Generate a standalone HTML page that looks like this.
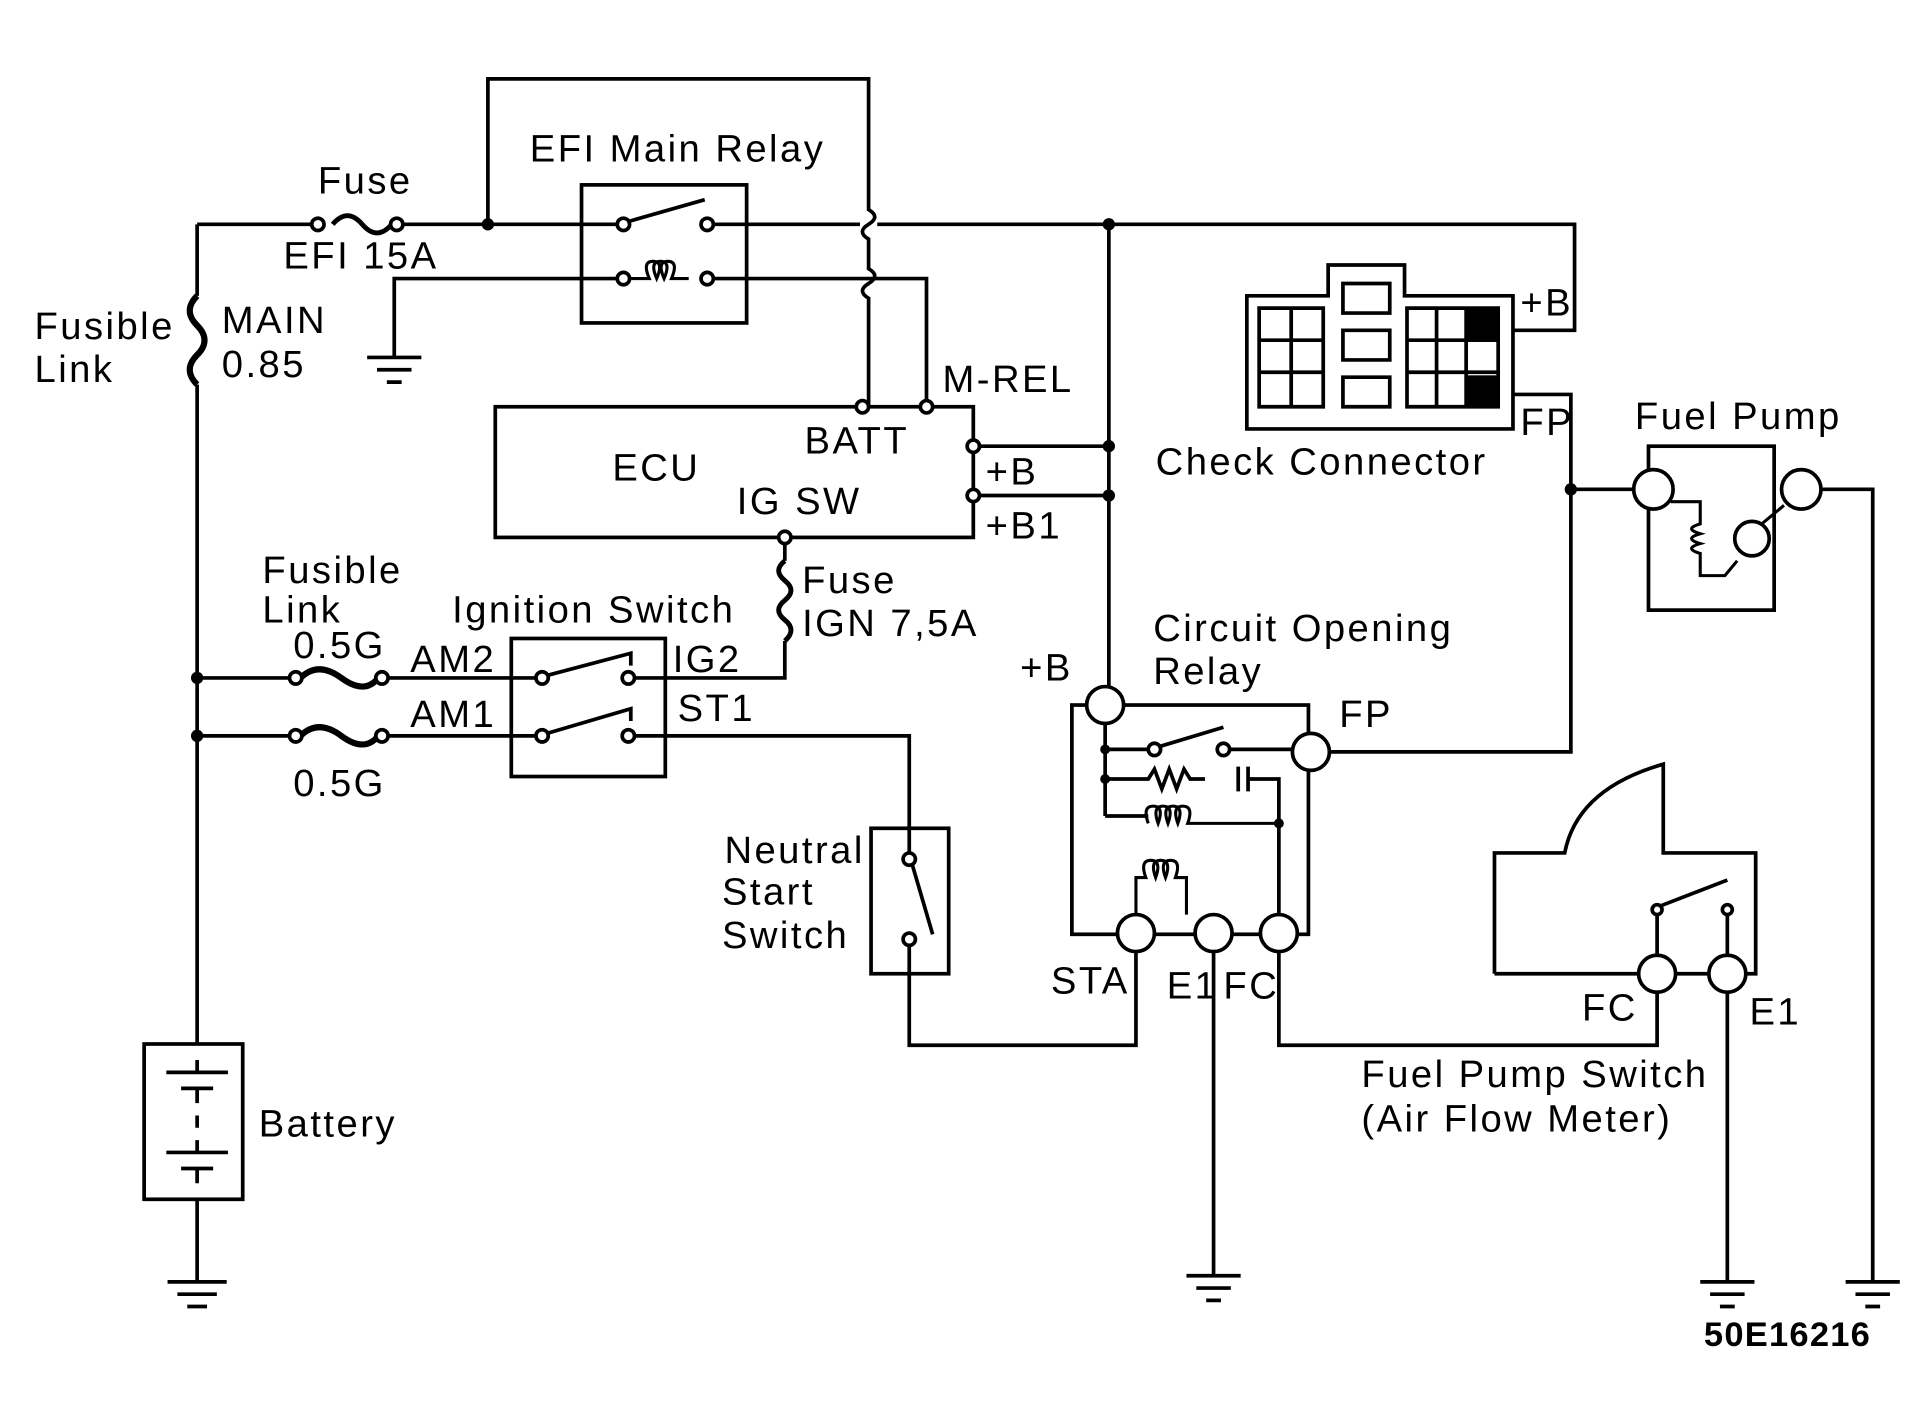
<!DOCTYPE html>
<html><head><style>html,body{margin:0;padding:0;background:#fff}svg{display:block}</style></head><body>
<svg width="1922" height="1415" viewBox="0 0 1560 1148" preserveAspectRatio="none" xmlns="http://www.w3.org/2000/svg">
<g fill="none" stroke="#000" stroke-width="3">
<path d="M160 182H258M322 182H472M606 182H698M712 182H1278V268H1228"/>
<path d="M160 182V240M160 312V847M160 973V1040"/>
<path d="M160 240q-12 12 0 24q12 12 0 24q-12 12 0 24" stroke-width="5"/>
<path d="M270 182q12-14 24 0t24 0" stroke-width="4"/>
<circle cx="258" cy="182" r="5" fill="#fff"/><circle cx="322" cy="182" r="5" fill="#fff"/>
<path d="M396 182V64H705V170q10 6 0 12q-10 6 0 12V218q10 6 0 12q-10 6 0 12V330"/>
<rect x="472" y="150" width="134" height="112"/>
<path d="M472 182H500M580 182H606M472 226H500M580 226H606"/>
<circle cx="506" cy="182" r="5" fill="#fff"/><circle cx="574" cy="182" r="5" fill="#fff"/>
<path d="M509 180L572 162"/>
<circle cx="506" cy="226" r="5" fill="#fff"/><circle cx="574" cy="226" r="5" fill="#fff"/>
<path d="M511 226h16q-6-14 3-14q9 0 3 14q-6-14 3-14q9 0 3 14q-6-14 3-14q9 0 3 14h14" stroke-width="2.5"/>
<path d="M320 290V226H472M606 226H752V330"/>
<path d="M298 290h44M306 300h28M314 310h12"/>
<rect x="402" y="330" width="388" height="106"/>
<path d="M790 362H900M790 402H900M900 182V557"/>
<circle cx="700" cy="330" r="5" fill="#fff"/><circle cx="752" cy="330" r="5" fill="#fff"/>
<circle cx="790" cy="362" r="5" fill="#fff"/><circle cx="790" cy="402" r="5" fill="#fff"/>
<path d="M637 441V455M637 520V550H515"/>
<path d="M637 455q-10 8 0 16q10 8 0 16q-10 8 0 16q10 8 0 17" stroke-width="4"/>
<circle cx="637" cy="436" r="5" fill="#fff"/>
<rect x="415" y="518" width="125" height="112"/>
<path d="M160 550H240M310 550H415M160 597H240M310 597H415M415 550H435M415 597H435M510 597H738V672"/>
<path d="M244 550q14-14 33 0t30 0M244 597q14-14 33 0t30 0" stroke-width="5"/>
<circle cx="240" cy="550" r="5" fill="#fff"/><circle cx="310" cy="550" r="5" fill="#fff"/>
<circle cx="240" cy="597" r="5" fill="#fff"/><circle cx="310" cy="597" r="5" fill="#fff"/>
<circle cx="440" cy="550" r="5" fill="#fff"/><circle cx="510" cy="550" r="5" fill="#fff"/>
<circle cx="440" cy="597" r="5" fill="#fff"/><circle cx="510" cy="597" r="5" fill="#fff"/>
<path d="M444 548L512 530L512 540M444 595L512 575L512 585"/>
<rect x="707" y="672" width="63" height="118"/>
<circle cx="738" cy="697" r="5" fill="#fff"/><circle cx="738" cy="762" r="5" fill="#fff"/>
<path d="M738 672V692M740 700L757 758M738 767V848H922V772"/>
<rect x="117" y="847" width="80" height="126"/>
<path d="M160 860V870M135 870h50M147 883h26M160 883V895M160 905V915M160 925V935M135 935h50M147 948h26M160 948V960"/>
<path d="M136 1040h48M144 1050h32M152 1060h16"/>
<rect x="870" y="572" width="192" height="186"/>
<circle cx="897" cy="572" r="15" fill="#fff"/>
<circle cx="1064" cy="610" r="15" fill="#fff"/>
<circle cx="922" cy="757" r="15" fill="#fff"/>
<circle cx="985" cy="757" r="15" fill="#fff"/>
<circle cx="1038" cy="757" r="15" fill="#fff"/>
<path d="M897 587V662M897 608H932M998 608H1049M897 632H932l5-8 6 16 6-16 6 16 6-16 5 8h12M1005 622v20M1013 622v20M1013 632H1038V742M897 662H932"/>
<circle cx="937" cy="608" r="5" fill="#fff"/><circle cx="993" cy="608" r="5" fill="#fff"/>
<path d="M940 606L993 590"/>
<path d="M932 668q-5-14 4-14q9 0 4 14q-5-14 4-14q9 0 4 14q-5-14 4-14q9 0 4 14q-5-14 4-14q9 0 4 14H1038" stroke-width="2.5"/>
<path d="M922 742V712h8q-5-14 4-14q9 0 4 14q-5-14 4-14q9 0 4 14q-5-14 4-14q9 0 4 14h9V742" stroke-width="2.5"/>
<path d="M985 772V1035M963 1035h44M971 1045h28M979 1055h12"/>
<path d="M1079 610H1275V397H1326M1275 397V320H1228"/>
<path d="M1038 772V848H1345V806"/>
<path d="M1012 240H1078V215H1140V240H1228V348H1012Z"/>
<path d="M1022 250H1074V330H1022ZM1048 250V330M1022 276H1074M1022 302H1074M1090 230H1128V254H1090ZM1090 268H1128V292H1090ZM1090 306H1128V330H1090ZM1142 250H1216V330H1142ZM1166 250V330M1190 250V330M1142 276H1216M1142 302H1216"/>
<rect x="1192" y="252" width="22" height="22" fill="#000"/><rect x="1192" y="306" width="22" height="22" fill="#000"/>
<rect x="1338" y="362" width="102" height="133"/>
<circle cx="1342" cy="397" r="16" fill="#fff"/><circle cx="1462" cy="397" r="16" fill="#fff"/>
<path d="M1478 397H1520V1040M1498 1040h44M1506 1050h28M1514 1060h12"/>
<path d="M1356 407h24v18q-14 4 0 8q-14 4 0 8q-14 4 0 8v18h20l10-12M1448 410L1430 425" stroke-width="2.5"/>
<circle cx="1422" cy="437" r="14"/>
<path d="M1213 790V692H1270Q1280 640 1350 620V692H1425V790H1213"/>
<circle cx="1345" cy="790" r="15" fill="#fff"/><circle cx="1402" cy="790" r="15" fill="#fff"/>
<path d="M1345 775V740M1402 775V740M1345 736L1402 714"/>
<circle cx="1345" cy="738" r="4" fill="#fff"/><circle cx="1402" cy="738" r="4" fill="#fff"/>
<path d="M1402 805V1040M1380 1040h44M1388 1050h28M1396 1060h12"/>
</g>
<g fill="#000">
<circle cx="396" cy="182" r="5"/><circle cx="900" cy="182" r="5"/><circle cx="900" cy="362" r="5"/><circle cx="900" cy="402" r="5"/>
<circle cx="160" cy="550" r="5"/><circle cx="160" cy="597" r="5"/><circle cx="1275" cy="397" r="5"/>
<circle cx="897" cy="608" r="4"/><circle cx="897" cy="632" r="4"/><circle cx="1038" cy="668" r="4"/>
</g>
<g font-family="Liberation Sans, sans-serif" font-size="31" letter-spacing="2" fill="#000">
<text x="258" y="157">Fuse</text>
<text x="430" y="131">EFI Main Relay</text>
<text x="230" y="218">EFI 15A</text>
<text x="28" y="275">Fusible</text><text x="28" y="310">Link</text>
<text x="180" y="270">MAIN</text><text x="180" y="306">0.85</text>
<text x="765" y="318">M-REL</text>
<text x="497" y="390">ECU</text><text x="653" y="368">BATT</text><text x="598" y="417">IG SW</text>
<text x="800" y="393">+B</text><text x="800" y="437">+B1</text>
<text x="213" y="473">Fusible</text><text x="213" y="505">Link</text>
<text x="367" y="505">Ignition Switch</text>
<text x="651" y="481">Fuse</text><text x="651" y="516">IGN 7,5A</text>
<text x="238" y="534">0.5G</text><text x="333" y="545">AM2</text><text x="333" y="590">AM1</text>
<text x="238" y="646">0.5G</text><text x="546" y="545">IG2</text><text x="550" y="585">ST1</text>
<text x="588" y="700">Neutral</text><text x="586" y="734">Start</text><text x="586" y="769">Switch</text>
<text x="210" y="922">Battery</text>
<text x="938" y="385">Check Connector</text>
<text x="1234" y="256">+B</text><text x="1234" y="353">FP</text>
<text x="1327" y="348">Fuel Pump</text>
<text x="936" y="520">Circuit Opening</text><text x="936" y="555">Relay</text>
<text x="828" y="552">+B</text><text x="1087" y="590">FP</text>
<text x="853" y="806">STA</text><text x="947" y="810">E1</text><text x="993" y="810">FC</text>
<text x="1284" y="828">FC</text><text x="1420" y="831">E1</text>
<text x="1105" y="882">Fuel Pump Switch</text><text x="1105" y="918">(Air Flow Meter)</text>
<text x="1383" y="1092" font-weight="bold" font-size="28" letter-spacing="1">50E16216</text>
</g>
</svg>
</body></html>
